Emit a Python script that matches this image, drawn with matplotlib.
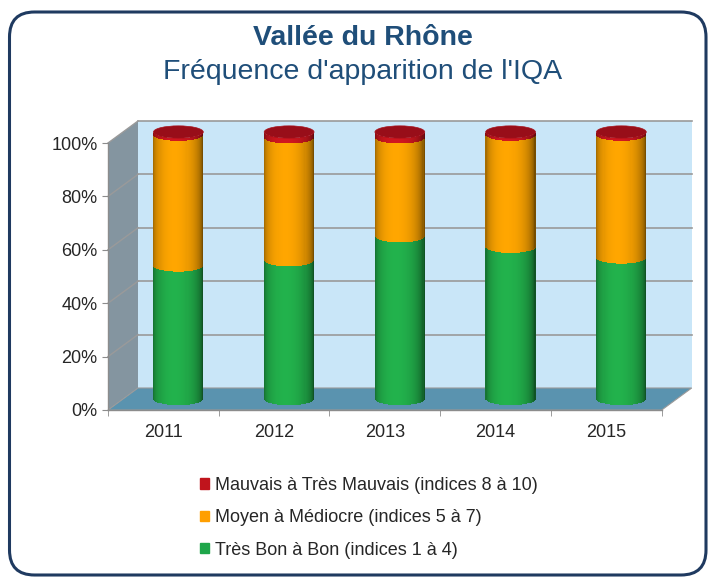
import numpy as np
import matplotlib
matplotlib.use("Agg")
import matplotlib.pyplot as plt
from matplotlib.patches import Polygon, Ellipse, FancyBboxPatch, Patch
from matplotlib.ticker import PercentFormatter
from matplotlib.colors import to_rgb

plt.rcParams['font.family'] = ['Liberation Sans', 'DejaVu Sans']

# données (en %)
years = ['2011', '2012', '2013', '2014', '2015']
tres_bon = [50, 52, 61, 57, 53]      # indices 1 à 4
moyen = [49, 46, 37, 42, 46]         # indices 5 à 7
mauvais = [1, 2, 2, 1, 1]            # indices 8 à 10

labels = ['Mauvais à Très Mauvais (indices 8 à 10)',
          'Moyen à Médiocre (indices 5 à 7)',
          'Très Bon à Bon (indices 1 à 4)']

c_green = '#22B24C'
c_orange = '#FFA600'
c_red = '#D0161F'
c_top = '#980E19'

fig = plt.figure(figsize=(7.09, 5.77), dpi=100)
W, H = 709, 577
ax = fig.add_axes([108 / W, (H - 410) / H, 553.7 / W, 267 / H])
ax.set_xlim(-0.5, 4.5)
ax.set_ylim(0, 100)
ax.patch.set_alpha(0)

# profondeur du décor 3D (unités de données)
DX = 30 / 110.74
DY = 22 / 2.67
EH = 2.3          # demi-hauteur des ellipses
BW = 0.45         # diamètre des cylindres

# paroi du fond, paroi gauche, sol
ax.add_patch(Polygon([(-0.5 + DX, DY), (4.5 + DX, DY), (4.5 + DX, 100 + DY), (-0.5 + DX, 100 + DY)],
                     closed=True, fc='#C9E6F8', ec='none', zorder=0.5, clip_on=False))
ax.add_patch(Polygon([(-0.5, 0), (-0.5, 100), (-0.5 + DX, 100 + DY), (-0.5 + DX, DY)],
                     closed=True, fc='#8495A0', ec='none', zorder=0.6, clip_on=False))
ax.add_patch(Polygon([(-0.5, 0), (4.5, 0), (4.5 + DX, DY), (-0.5 + DX, DY)],
                     closed=True, fc='#5A93AF', ec='#9A9A9A', lw=0.8, zorder=0.7, clip_on=False))
for v in range(20, 101, 20):
    ax.plot([-0.5 + DX, 4.5 + DX], [v + DY, v + DY], color='#9A9A9A', lw=1.2, zorder=0.8, clip_on=False)
    ax.plot([-0.5, -0.5 + DX], [v, v + DY], color='#9A9A9A', lw=1.0, zorder=0.8, clip_on=False)


def shades(base, n):
    u = np.linspace(-1 + 1 / n, 1 - 1 / n, n)
    th = np.arcsin(u)
    f = 0.42 + 0.58 * np.clip(np.cos(th + 0.15), 0, 1) ** 0.85
    rgb = np.array(to_rgb(base))
    return u, [tuple(np.clip(rgb * k, 0, 1)) for k in f]


n = 48
x0 = np.arange(len(years)) + DX / 2
base = DY / 2
for i in range(len(years)):
    cx = x0[i]
    bottom = base
    for val, col in [(tres_bon[i], c_green), (moyen[i], c_orange), (mauvais[i], c_red)]:
        u, cols = shades(col, n)
        e = EH * np.sqrt(1 - u ** 2)
        ax.bar(cx + u * BW / 2, val, bottom=bottom - e, width=BW / n * 1.4,
               color=cols, linewidth=0, zorder=3, clip_on=False)
        bottom += val
    ax.add_patch(Ellipse((cx, bottom), BW, 2 * EH, fc=c_top, ec='#A8111B', lw=0.5,
                         zorder=4, clip_on=False))

# axes
for s in ['top', 'right']:
    ax.spines[s].set_visible(False)
for s in ['left', 'bottom']:
    ax.spines[s].set_color('#8C8C8C')
    ax.spines[s].set_linewidth(1.0)
ax.set_yticks(range(0, 101, 20))
ax.yaxis.set_major_formatter(PercentFormatter(decimals=0))
ax.tick_params(axis='y', length=4.5, color='#8C8C8C', pad=3, labelsize=13, labelcolor='#262626')
ax.set_xticks(range(len(years)))
ax.set_xticklabels(years)
ax.tick_params(axis='x', which='major', length=0, pad=10, labelsize=13, labelcolor='#262626')
ax.set_xticks(np.arange(-0.5, 4.6, 1), minor=True)
ax.tick_params(axis='x', which='minor', length=4.5, color='#8C8C8C')

# titres
fig.text(363 / W, 1 - 38 / H, 'Vallée du Rhône', ha='center', va='center',
         fontsize=20.5, fontweight='bold', color='#1F4E79')
fig.text(363 / W, 1 - 72 / H, "Fréquence d'apparition de l'IQA", ha='center', va='center',
         fontsize=20.5, color='#1F4E79')

# légende
handles = [Patch(color='#C0141C'), Patch(color='#FF9F00'), Patch(color='#1FA64A')]
fig.legend(handles, labels, loc='upper left', bbox_to_anchor=(200 / W, 1 - 477 / H),
           frameon=False, fontsize=13, handlelength=0.5, handleheight=0.5,
           handletextpad=0.35, labelspacing=0.85, borderpad=0, borderaxespad=0,
           labelcolor='#262626')

# cadre arrondi
fig.patches.append(FancyBboxPatch((0.095, 0.02), 6.965, 5.63,
                                  boxstyle='round,pad=0,rounding_size=0.25',
                                  transform=fig.dpi_scale_trans, fc='none',
                                  ec='#1F3A60', lw=2.2))

fig.savefig('out.png', dpi=100, facecolor='white')
